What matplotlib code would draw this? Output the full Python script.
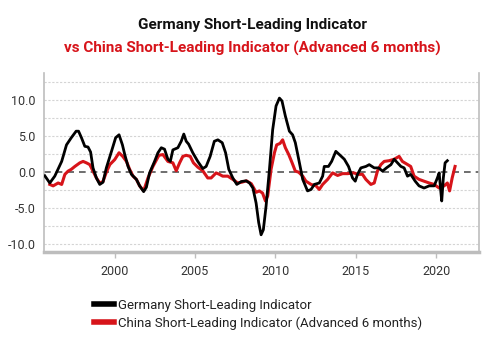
import matplotlib
matplotlib.use("Agg")
import matplotlib.pyplot as plt
from matplotlib.lines import Line2D

plt.rcParams['font.family'] = ['Roboto', 'DejaVu Sans']

# Germany short-leading indicator (year, value)
ger_t = [1995.65, 1995.96, 1996.27, 1996.7, 1997.0, 1997.3, 1997.6, 1997.75, 1997.93, 1998.14,
         1998.34, 1998.5, 1998.65, 1998.86, 1999.07, 1999.27, 1999.48, 1999.8, 2000.06, 2000.27,
         2000.48, 2000.62, 2000.83, 2001.04, 2001.35, 2001.55, 2001.8, 2001.97, 2002.17, 2002.48,
         2002.69, 2002.9, 2003.1, 2003.31, 2003.46, 2003.62, 2003.93, 2004.14, 2004.3, 2004.45,
         2004.6, 2004.86, 2005.17, 2005.48, 2005.69, 2005.94, 2006.2, 2006.42, 2006.69, 2006.9,
         2007.1, 2007.35, 2007.6, 2007.87, 2008.18, 2008.39, 2008.6, 2008.8, 2008.96, 2009.11,
         2009.25, 2009.42, 2009.63, 2009.83, 2010.04, 2010.25, 2010.41, 2010.62, 2010.87, 2011.07,
         2011.24, 2011.45, 2011.7, 2012.0, 2012.22, 2012.42, 2012.73, 2012.94, 2013.04, 2013.3,
         2013.5, 2013.76, 2013.98, 2014.29, 2014.55, 2014.8, 2014.97, 2015.11, 2015.32, 2015.63,
         2015.84, 2016.15, 2016.42, 2016.67, 2016.91, 2017.19, 2017.39, 2017.6, 2017.81, 2018.01,
         2018.22, 2018.42, 2018.7, 2018.94, 2019.25, 2019.57, 2019.88, 2020.08, 2020.19, 2020.29,
         2020.35, 2020.45, 2020.56, 2020.7]
ger_v = [-0.5, -1.5, -0.55, 1.5, 3.8, 4.8, 5.7, 5.7, 4.8, 3.6,
         3.5, 2.8, 0.6, -0.8, -1.7, -1.4, 0.6, 2.9, 4.8, 5.2,
         3.8, 2.5, 0.8, -0.3, -1.0, -1.9, -2.7, -2.1, -0.1, 1.5,
         2.7, 3.4, 3.2, 1.8, 1.5, 3.1, 3.4, 4.3, 5.3, 4.3,
         3.9, 2.7, 1.5, 0.5, 0.8, 2.2, 4.3, 4.5, 4.1, 2.7,
         0.4, -0.8, -1.7, -1.3, -1.2, -1.5, -2.2, -4.3, -7.0, -8.7,
         -8.0, -4.7, 0.4, 5.9, 9.2, 10.3, 9.9, 7.8, 5.7, 5.2,
         4.1, 1.8, -1.0, -2.6, -2.4, -1.7, -1.5, -0.55, 0.8, 0.8,
         1.5, 2.9, 2.45, 1.8, 0.8, -0.8, -1.25, -0.3, 0.6, 0.8,
         1.05, 0.6, 0.6, 0.15, 0.6, 1.05, 1.8, 1.3, 0.8, 0.6,
         -0.55, -0.3, -1.25, -1.9, -2.2, -1.9, -1.9, -0.8, -0.1, -2.6,
         -4.0, -0.8, 1.3, 1.6]

# China short-leading indicator, advanced 6 months
chn_t = [1995.96, 1996.17, 1996.48, 1996.7, 1996.9, 1997.1, 1997.3, 1997.52, 1997.83, 1998.03,
         1998.24, 1998.45, 1998.65, 1998.86, 1999.07, 1999.27, 1999.48, 1999.7, 2000.0, 2000.27,
         2000.5, 2000.73, 2000.93, 2001.14, 2001.35, 2001.55, 2001.8, 2002.07, 2002.38, 2002.75,
         2003.0, 2003.31, 2003.62, 2003.83, 2004.04, 2004.24, 2004.45, 2004.7, 2004.9, 2005.17,
         2005.48, 2005.79, 2006.0, 2006.31, 2006.52, 2006.72, 2007.04, 2007.35, 2007.66, 2007.9,
         2008.2, 2008.5, 2008.8, 2009.0, 2009.2, 2009.38, 2009.52, 2009.73, 2009.94, 2010.08,
         2010.29, 2010.45, 2010.62, 2010.83, 2011.04, 2011.24, 2011.45, 2011.7, 2011.9, 2012.22,
         2012.53, 2012.73, 2012.94, 2013.25, 2013.56, 2013.87, 2014.18, 2014.5, 2014.9, 2015.11,
         2015.42, 2015.63, 2015.94, 2016.15, 2016.35, 2016.56, 2016.77, 2017.08, 2017.39, 2017.7,
         2017.9, 2018.22, 2018.42, 2018.63, 2018.94, 2019.25, 2019.57, 2019.88, 2020.19, 2020.5,
         2020.7, 2020.84, 2021.0, 2021.18]
chn_v = [-1.7, -1.9, -1.5, -1.7, -0.3, 0.15, 0.4, 0.8, 1.3, 1.5,
         1.3, 1.05, 0.15, -0.8, -1.5, -1.3, 0.0, 1.07, 1.75, 2.7,
         2.2, 1.5, 0.4, -0.55, -1.0, -1.9, -2.6, -0.8, 0.8, 2.35,
         2.45, 1.5, 1.3, 0.2, 1.3, 2.2, 2.35, 2.2, 1.3, 0.7,
         0.2, -0.8, -0.8, -0.1, -0.3, -0.55, -0.55, -1.0, -1.5, -1.4,
         -1.2, -1.6, -2.8, -2.6, -2.9, -4.0, -3.3, 0.4, 2.7, 3.8,
         4.0, 4.5, 3.4, 2.45, 1.3, 0.15, 0.0, -0.55, -1.25, -1.7,
         -1.9, -2.4, -1.7, -1.0, -0.1, -0.45, -0.2, -0.2, -0.1, -0.3,
         -0.3, -1.0, -1.7, -1.5, 0.15, 1.05, 1.5, 1.6, 1.8, 2.2,
         1.5, 1.07, 0.8, -0.55, -1.0, -1.25, -1.5, -1.7, -2.2, -1.9,
         -1.5, -2.6, -0.8, 0.8]

x_ticks = [2000, 2005, 2010, 2015, 2020]
y_ticks = [-10, -5, 0, 5, 10]
y_grid = [-10, -7.5, -5, -2.5, 2.5, 5, 7.5, 10, 12.5]

RED = '#d7141a'
GRAY = '#bdbdbd'

fig = plt.figure(figsize=(5, 3.54), dpi=100)
ax = fig.add_axes([0.088, 0.288, 0.87, 0.506])

for g in y_grid:
    ax.axhline(g, color='#d4d4d4', lw=0.8, ls=(0, (2, 1.5)), zorder=0)
ax.axhline(0, color='#555555', lw=1.2, ls=(0, (4, 3)), zorder=1)

ax.plot(chn_t, chn_v, color=RED, lw=2.2, zorder=2)
ax.plot(ger_t, ger_v, color='black', lw=2, zorder=3)

ax.set_xlim(1995.6, 2022.67)
ax.set_ylim(-11.1, 13.8)
ax.set_xticks(x_ticks)
ax.set_yticks(y_ticks)
ax.set_yticklabels([f'{v:.1f}' for v in y_ticks])
ax.tick_params(axis='y', length=0, pad=6, labelsize=9, labelcolor='#333333')
ax.tick_params(axis='x', length=4, width=1, color=GRAY, pad=5, labelsize=9, labelcolor='#333333')

ax.spines['top'].set_visible(False)
ax.spines['left'].set_color(GRAY)
ax.spines['left'].set_linewidth(1.2)
ax.spines['right'].set_color(GRAY)
ax.spines['right'].set_linewidth(1.2)
ax.spines['bottom'].set_color(GRAY)
ax.spines['bottom'].set_linewidth(2.5)

fig.text(0.504, 0.928, 'Germany Short-Leading Indicator', ha='center', va='center',
         fontsize=11, fontweight='bold', color='#111111')
fig.text(0.504, 0.864, 'vs China Short-Leading Indicator (Advanced 6 months)', ha='center',
         va='center', fontsize=11, fontweight='bold', color=RED)

handles = [Line2D([], [], color='black', lw=4),
           Line2D([], [], color=RED, lw=4)]
labels = ['Germany Short-Leading Indicator',
          'China Short-Leading Indicator (Advanced 6 months)']
fig.legend(handles, labels, loc='upper left', bbox_to_anchor=(0.165, 0.19), frameon=False,
           fontsize=9.5, handlelength=1.45, handletextpad=0.35, labelspacing=0.35,
           labelcolor='#222222')

fig.savefig('out.png', dpi=100, facecolor='white')
